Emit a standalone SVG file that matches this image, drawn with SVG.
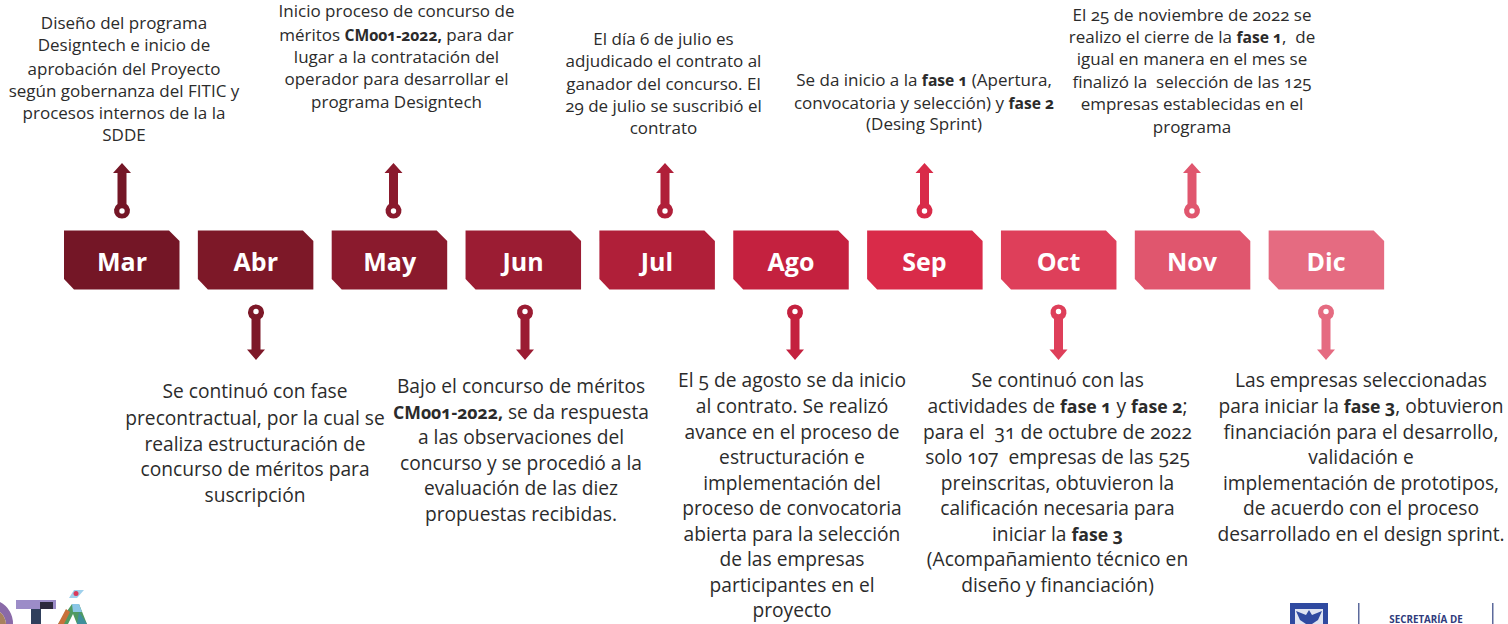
<svg xmlns="http://www.w3.org/2000/svg" width="1508" height="624" viewBox="0 0 1508 624">
<style>
text{font-family:"Open Sans","Noto Sans","Liberation Sans",sans-serif;text-anchor:middle;fill:#2b2b2b;font-variant-numeric:oldstyle-nums;white-space:pre}
.t{font-size:17px}.b{font-size:19.2px}
.m{font-size:25px;font-weight:700;fill:#fff}
tspan.s{font-weight:700;font-size:.92em}
.lg{font-size:9.8px;font-weight:700;fill:#2f3b7c}
</style>
<defs>
<path id="box" d="M64 230.5H169L179.5 241V289.5H74L64 279Z"/>
<path id="up" fill-rule="evenodd" d="M0 163L9 173H4.5V204A8 8 0 1 1 -4.500 204V173H-9ZM0 208.300A2.700 2.700 0 1 0 0 213.700A2.700 2.700 0 1 0 0 208.300Z"/>
<path id="down" fill-rule="evenodd" d="M0 360L9 349.500H4.500V319A8 8 0 1 0 -4.500 319V349.500H-9ZM0 308.800A2.700 2.700 0 1 1 0 314.200A2.700 2.700 0 1 1 0 308.800Z"/>
</defs>
<g id="connectors">
<use href="#up" x="122" fill="#741626"/>
<use href="#down" x="256" fill="#7d1828"/>
<use href="#up" x="393.500" fill="#8a1a2d"/>
<use href="#down" x="525" fill="#9b1c33"/>
<use href="#up" x="665" fill="#b01f39"/>
<use href="#down" x="795" fill="#c4213f"/>
<use href="#up" x="924.500" fill="#d92b49"/>
<use href="#down" x="1058.500" fill="#de3f5a"/>
<use href="#up" x="1192" fill="#e0566e"/>
<use href="#down" x="1326" fill="#e56b81"/>
</g>
<g id="mar"><use href="#box" fill="#741626"/><text class="m" x="122" y="271">Mar</text></g>
<g id="abr"><use href="#box" x="133.850" fill="#7d1828"/><text class="m" x="255.800" y="271">Abr</text></g>
<g id="may"><use href="#box" x="267.700" fill="#8a1a2d"/><text class="m" x="389.700" y="271">May</text></g>
<g id="jun"><use href="#box" x="401.550" fill="#9b1c33"/><text class="m" x="523" y="271">Jun</text></g>
<g id="jul"><use href="#box" x="535.400" fill="#b01f39"/><text class="m" x="657" y="271">Jul</text></g>
<g id="ago"><use href="#box" x="669.250" fill="#c4213f"/><text class="m" x="791" y="271">Ago</text></g>
<g id="sep"><use href="#box" x="803.100" fill="#d92b49"/><text class="m" x="924.500" y="271">Sep</text></g>
<g id="oct"><use href="#box" x="936.950" fill="#de3f5a"/><text class="m" x="1058.500" y="271">Oct</text></g>
<g id="nov"><use href="#box" x="1070.800" fill="#e0566e"/><text class="m" x="1192" y="271">Nov</text></g>
<g id="dic"><use href="#box" x="1204.650" fill="#e56b81"/><text class="m" x="1326" y="271">Dic</text></g>
<g id="txt-mar">
<text class="t" x="124" y="29">Diseño del programa</text>
<text class="t" x="124" y="51">Designtech e inicio de</text>
<text class="t" x="124" y="75">aprobación del Proyecto</text>
<text class="t" x="124" y="97">según gobernanza del FITIC y</text>
<text class="t" x="124" y="119">procesos internos de la la</text>
<text class="t" x="124" y="141">SDDE</text>
</g>
<g id="txt-may">
<text class="t" x="396.500" y="17">Inicio proceso de concurso de</text>
<text class="t" x="396.500" y="41">méritos <tspan class="s">CM001-2022,</tspan> para dar</text>
<text class="t" x="396.500" y="63">lugar a la contratación del</text>
<text class="t" x="396.500" y="85">operador para desarrollar el</text>
<text class="t" x="396.500" y="108">programa Designtech</text>
</g>
<g id="txt-jul">
<text class="t" x="663.500" y="45">El día 6 de julio es</text>
<text class="t" x="663.500" y="67">adjudicado el contrato al</text>
<text class="t" x="663.500" y="90">ganador del concurso. El</text>
<text class="t" x="663.500" y="112">29 de julio se suscribió el</text>
<text class="t" x="663.500" y="134">contrato</text>
</g>
<g id="txt-sep">
<text class="t" x="924" y="86">Se da inicio a la <tspan class="s">fase 1</tspan> (Apertura,</text>
<text class="t" x="924" y="109">convocatoria y selección) y <tspan class="s">fase 2</tspan></text>
<text class="t" x="924" y="130">(Desing Sprint)</text>
</g>
<g id="txt-nov">
<text class="t" x="1192" y="21">El 25 de noviembre de 2022 se</text>
<text class="t" x="1192" y="43">realizo el cierre de la <tspan class="s">fase 1</tspan>,  de</text>
<text class="t" x="1192" y="65">igual en manera en el mes se</text>
<text class="t" x="1192" y="88">finalizó la  selección de las 125</text>
<text class="t" x="1192" y="110">empresas establecidas en el</text>
<text class="t" x="1192" y="133">programa</text>
</g>
<g id="txt-abr">
<text class="b" x="255" y="398">Se continuó con fase</text>
<text class="b" x="255" y="425">precontractual, por la cual se</text>
<text class="b" x="255" y="451">realiza estructuración de</text>
<text class="b" x="255" y="476">concurso de méritos para</text>
<text class="b" x="255" y="502">suscripción</text>
</g>
<g id="txt-jun">
<text class="b" x="521" y="393">Bajo el concurso de méritos</text>
<text class="b" x="521" y="419"><tspan class="s">CM001-2022,</tspan> se da respuesta</text>
<text class="b" x="521" y="444">a las observaciones del</text>
<text class="b" x="521" y="470">concurso y se procedió a la</text>
<text class="b" x="521" y="495">evaluación de las diez</text>
<text class="b" x="521" y="521">propuestas recibidas.</text>
</g>
<g id="txt-ago">
<text class="b" x="792" y="387">El 5 de agosto se da inicio</text>
<text class="b" x="792" y="413">al contrato. Se realizó</text>
<text class="b" x="792" y="439">avance en el proceso de</text>
<text class="b" x="792" y="464">estructuración e</text>
<text class="b" x="792" y="490">implementación del</text>
<text class="b" x="792" y="515">proceso de convocatoria</text>
<text class="b" x="792" y="541">abierta para la selección</text>
<text class="b" x="792" y="566">de las empresas</text>
<text class="b" x="792" y="592">participantes en el</text>
<text class="b" x="792" y="617">proyecto</text>
</g>
<g id="txt-oct">
<text class="b" x="1057.500" y="387">Se continuó con las</text>
<text class="b" x="1057.500" y="413">actividades de <tspan class="s">fase 1</tspan> y <tspan class="s">fase 2</tspan>;</text>
<text class="b" x="1057.500" y="439">para el  31 de octubre de 2022</text>
<text class="b" x="1057.500" y="464">solo 107  empresas de las 525</text>
<text class="b" x="1057.500" y="490">preinscritas, obtuvieron la</text>
<text class="b" x="1057.500" y="515">calificación necesaria para</text>
<text class="b" x="1057.500" y="541">iniciar la <tspan class="s">fase 3</tspan></text>
<text class="b" x="1057.500" y="566">(Acompañamiento técnico en</text>
<text class="b" x="1057.500" y="592">diseño y financiación)</text>
</g>
<g id="txt-dic">
<text class="b" x="1361" y="387">Las empresas seleccionadas</text>
<text class="b" x="1361" y="413">para iniciar la <tspan class="s">fase 3</tspan>, obtuvieron</text>
<text class="b" x="1361" y="439">financiación para el desarrollo,</text>
<text class="b" x="1361" y="464">validación e</text>
<text class="b" x="1361" y="490">implementación de prototipos,</text>
<text class="b" x="1361" y="515">de acuerdo con el proceso</text>
<text class="b" x="1361" y="541">desarrollado en el design sprint.</text>
</g>
<g id="logo-left">
<path d="M0 602A24 24 0 0 1 13 624H6A17 17 0 0 0 0 612Z" fill="#8a6aa8"/>
<path d="M0 612A17 17 0 0 1 6 624H0Z" fill="#a8825e"/>
<rect x="16" y="600" width="40" height="9" fill="#9c8cc8"/>
<rect x="40" y="602" width="13" height="7" fill="#2e2a3e"/>
<rect x="31" y="609" width="10" height="15" fill="#2f3f5c"/>
<path d="M72 604H79L87 624H77L73 614L68 624H58Z" fill="#4f9a62"/>
<path d="M66 609L58 624H64L70 612Z" fill="#c8703a"/>
<path d="M72 604H79L82 612H73Z" fill="#8ac6e6"/>
<path d="M79 612L87 624H77Z" fill="#3f8f9c"/>
<path d="M74 590H84L77 598H69Z" fill="#9fd0ec"/>
<circle cx="76" cy="593.500" r="2.500" fill="#d83a5c"/>
</g>
<g id="logo-right">
<rect x="1290" y="603" width="38" height="21" fill="#2f4aa0"/>
<rect x="1295" y="609" width="28" height="15" fill="#dfe4f2"/>
<path d="M1309 610L1312 615L1322 611L1318 620L1312 624H1306L1300 620L1296 611L1306 615Z" fill="#2f4aa0"/>
<rect x="1358" y="603" width="1.500" height="21" fill="#5d6a9c"/>
<rect x="1492" y="603" width="1.500" height="21" fill="#5d6a9c"/>
<text class="lg" x="1426" y="623">SECRETARÍA DE</text>
</g>
</svg>
